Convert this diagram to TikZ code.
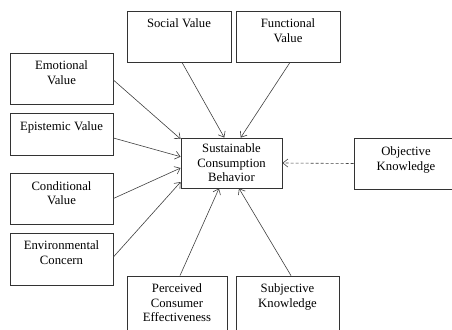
\documentclass[tikz,border=0pt]{standalone}
\usepackage{fontspec}
\setmainfont{Liberation Serif}
\usetikzlibrary{arrows.meta}
\begin{document}
\begin{tikzpicture}[x=1pt,y=-1pt,
  box/.style={draw=black!80, line width=0.8pt, inner sep=0pt, minimum width=#1},
  box/.default=104,
  lbl/.style={anchor=north, inner sep=0pt, align=center, font=\fontsize{12.7}{14.5}\selectfont},
  arr/.style={draw=black!75, line width=0.6pt, -{Straight Barb[length=5pt,width=8pt]}},
  dsh/.style={arr, dash pattern=on 3pt off 2pt}]
\useasboundingbox (0,0) rectangle (452,329);
% boxes
\node[box=104, minimum height=51] (soc) at (179,36.5) {};
\node[box=104, minimum height=51] (fun) at (288,36.5) {};
\node[box=103, minimum height=51] (emo) at (61.5,78.5) {};
\node[box=103, minimum height=42] (epi) at (61.5,134) {};
\node[box=103, minimum height=51] (con) at (61.5,198.5) {};
\node[box=103, minimum height=52] (env) at (61.5,259) {};
\node[box=101, minimum height=50, align=center, font=\fontsize{12.7}{14.5}\selectfont] (cb) at (231.5,163) {Sustainable\\Consumption\\Behavior};
\node[box=104, minimum height=51] (obj) at (406,163.5) {};
\node[box=100, minimum height=60] (per) at (177,306) {};
\node[box=103, minimum height=60] (sub) at (287.5,306) {};
% labels
\node[lbl] at ([yshift=-8pt]soc.north) {Social Value};
\node[lbl] at ([yshift=-8pt]fun.north) {Functional\\Value};
\node[lbl] at ([yshift=-8pt]emo.north) {Emotional\\Value};
\node[lbl] at ([yshift=-9pt]epi.north) {Epistemic Value};
\node[lbl] at ([yshift=-8.5pt]con.north) {Conditional\\Value};
\node[lbl] at ([yshift=-8pt]env.north) {Environmental\\Concern};
\node[lbl] at ([yshift=-9pt]obj.north) {Objective\\Knowledge};
\node[lbl] at ([yshift=-8pt]per.north) {Perceived\\Consumer\\Effectiveness};
\node[lbl] at ([yshift=-8pt]sub.north) {Subjective\\Knowledge};
% connectors
\draw[arr] ([xshift=3pt]soc.south) -- ([xshift=-7.2pt]cb.north);
\draw[arr] ([xshift=2pt]fun.south) -- ([xshift=9.2pt]cb.north);
\draw[arr] ([yshift=-1.5pt]emo.east) -- ([yshift=24pt]cb.west);
\draw[arr] ([yshift=-4pt]epi.east) -- ([yshift=6.3pt]cb.west);
\draw[arr] (con.east) -- ([yshift=-5pt]cb.west);
\draw[arr] ([yshift=2pt]env.east) -- ([yshift=-19pt]cb.west);
\draw[arr] ([xshift=3pt]per.north) -- ([xshift=-12.5pt]cb.south);
\draw[arr] ([xshift=3.5pt]sub.north) -- ([xshift=7.5pt]cb.south);
\draw[dsh] (obj.west) -- (cb.east);
\end{tikzpicture}
\end{document}
